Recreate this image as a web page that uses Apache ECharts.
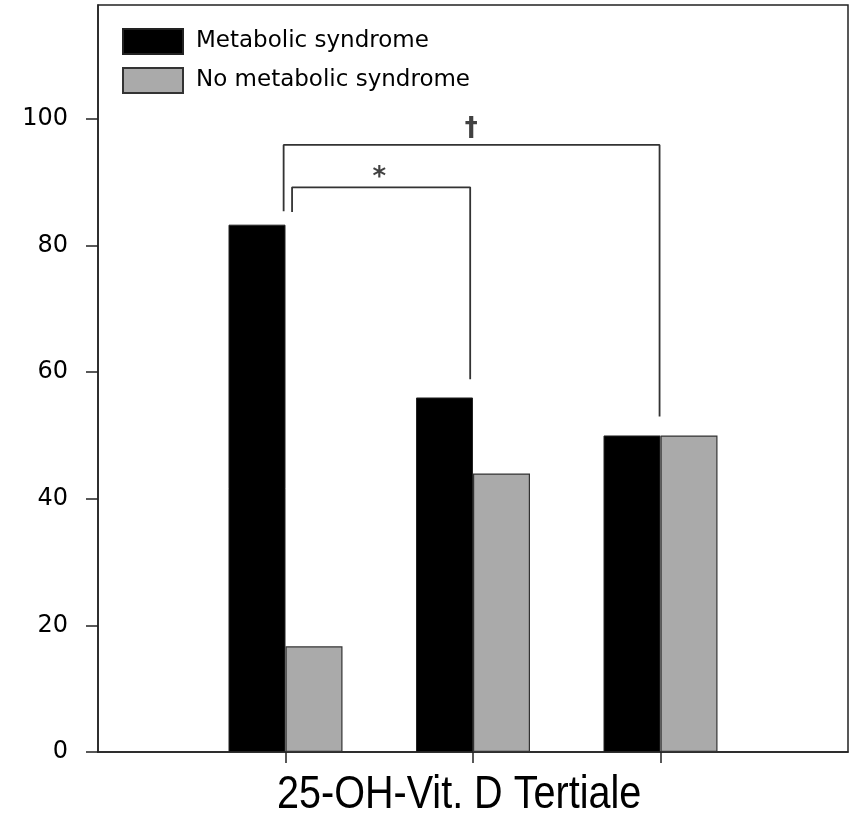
<!DOCTYPE html>
<html lang="en" style="height: 100%">
<head>
	<meta charset="utf-8">
	<title>25-OH-Vit. D Tertiale</title>
</head>
<body style='height: 100%; margin: 0; background: #fff'>
<div id='container' style='width: 853px; height: 815px'></div>
<script type='text/javascript' src='https://cdn.jsdelivr.net/npm/echarts@6.0.0/dist/echarts.min.js'></script>
<script type="text/javascript">

	// values (percent)
	var tertiles = [1, 2, 3];
	var metabolic = [83.3, 56, 50];
	var noMetabolic = [16.7, 44, 50];
	var yTicks = [0, 20, 40, 60, 80, 100];
	var axisTitle = '25-OH-Vit. D Tertiale';

	// significance brackets, [x, y] in axis units
	var bracketOuter = [[0.99, 85.4], [0.99, 95.9], [2.995, 95.9], [2.995, 53]];
	var bracketInner = [[1.035, 85.3], [1.035, 89.2], [1.985, 89.2], [1.985, 58.9]];
	var signs = [[1.5, 90.6, '*'], [1.99, 98.3, '†']];

	var dom = document.getElementById('container');
	var myChart = echarts.init(dom, null, { renderer: 'canvas' });

	var option = {
		animation: false,
		// narrow axis title, Arial squeezed horizontally
		graphic: [{
			type: 'text',
			left: 277,
			top: 772,
			scaleX: 0.86,
			silent: true,
			style: {
				text: axisTitle,
				fontFamily: 'Liberation Sans, Arial, sans-serif',
				fontSize: 46,
				fill: '#000'
			}
		}],
		legend: {
			orient: 'vertical',
			left: 122,
			top: 28,
			padding: 0,
			icon: 'rect',
			itemWidth: 60,
			itemHeight: 25,
			itemGap: 12,
			data: ['Metabolic syndrome', 'No metabolic syndrome'],
			textStyle: {
				fontFamily: 'DejaVu Sans',
				fontSize: 23,
				color: '#000',
				padding: [0, 0, 0, 8]
			}
		},
		grid: {
			left: 98,
			right: 5,
			top: 5,
			bottom: 63,
			show: true,
			borderColor: '#222',
			borderWidth: 1.5
		},
		xAxis: {
			type: 'value',
			min: 0,
			max: 4,
			interval: 1,
			axisLine: { lineStyle: { color: '#222', width: 1.5 } },
			axisTick: { show: true, customValues: tertiles, length: 11, lineStyle: { color: '#222', width: 1.5 } },
			axisLabel: { show: false },
			splitLine: { show: false }
		},
		yAxis: {
			type: 'value',
			min: 0,
			max: 118,
			interval: 20,
			axisLine: { show: true, lineStyle: { color: '#222', width: 1.5 } },
			axisTick: { show: true, customValues: yTicks, length: 12, lineStyle: { color: '#222', width: 1.5 } },
			axisLabel: {
				customValues: yTicks,
				margin: 30,
				fontFamily: 'DejaVu Sans',
				fontSize: 24,
				color: '#000'
			},
			splitLine: { show: false }
		},
		series: [
			{
				name: 'Metabolic syndrome',
				type: 'bar',
				barWidth: 57,
				barGap: '0%',
				data: tertiles.map(function (t, i) { return [t, metabolic[i]]; }),
				itemStyle: { color: '#000', borderColor: '#222', borderWidth: 1 }
			},
			{
				name: 'No metabolic syndrome',
				type: 'bar',
				barWidth: 57,
				barGap: '0%',
				data: tertiles.map(function (t, i) { return [t, noMetabolic[i]]; }),
				itemStyle: { color: '#aaaaaa', borderColor: '#333', borderWidth: 1.2 }
			},
			{
				type: 'line',
				data: bracketOuter,
				showSymbol: false,
				silent: true,
				lineStyle: { color: '#333', width: 1.8 }
			},
			{
				type: 'line',
				data: bracketInner,
				showSymbol: false,
				silent: true,
				lineStyle: { color: '#333', width: 1.8 }
			},
			{
				type: 'scatter',
				symbolSize: 1,
				itemStyle: { color: 'rgba(0,0,0,0)' },
				silent: true,
				data: signs.map(function (s) { return { value: [s[0], s[1]], name: s[2] }; }),
				label: {
					show: true,
					position: 'inside',
					formatter: function (p) { return p.name; },
					fontFamily: 'DejaVu Sans',
					fontSize: 26,
					fontWeight: 'bold',
					color: '#111'
				}
			}
		]
	};

	if (option && typeof option === 'object') {
		myChart.setOption(option);
	}

	window.addEventListener('resize', myChart.resize);

</script>
</body>
</html>
